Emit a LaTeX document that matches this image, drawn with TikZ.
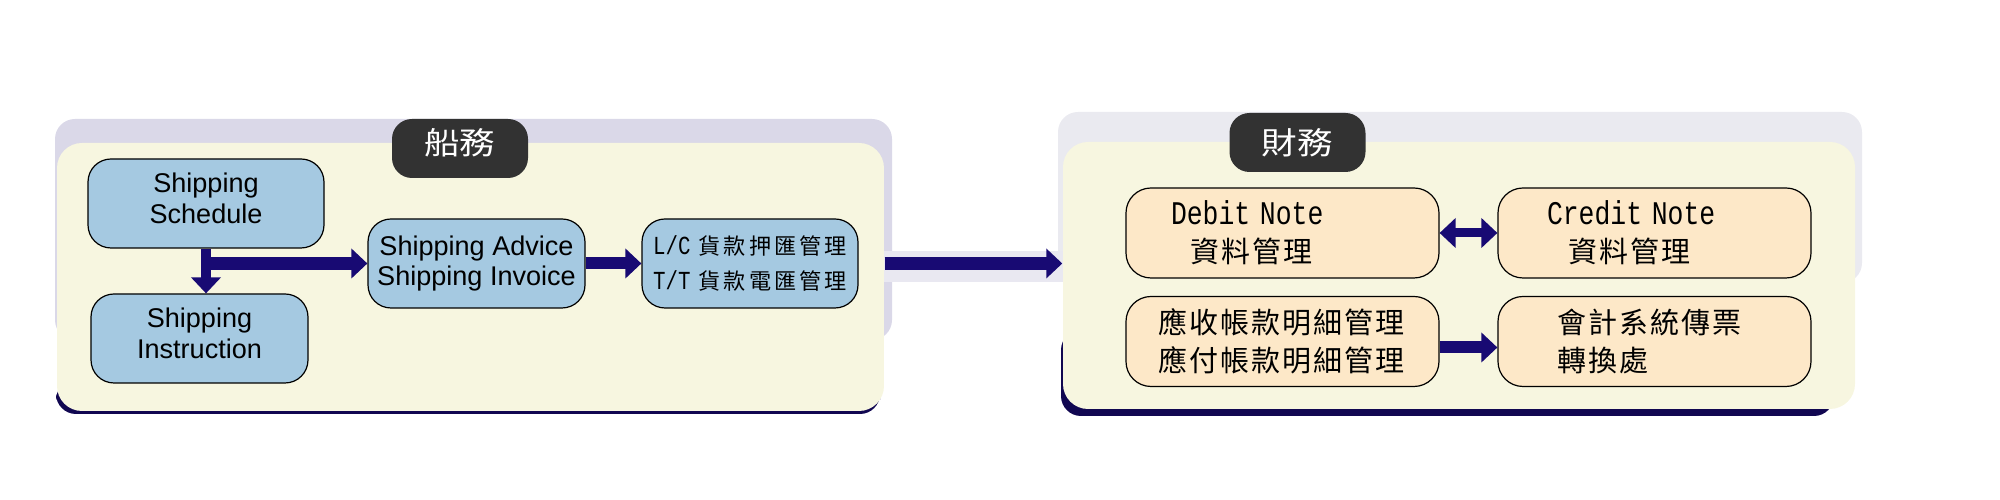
\documentclass[tikz,border=0pt]{standalone}
\usepackage{fontspec}
\setmainfont{Liberation Sans}
\newfontfamily\cjkfont[LetterSpace=7]{Noto Sans CJK TC}
\newfontfamily\cjkspaced[LetterSpace=14]{Noto Sans CJK TC}
\newfontfamily\tagfont[FakeStretch=1.15]{Noto Sans CJK TC}
\newfontfamily\notefont[FakeStretch=0.8]{Liberation Mono}
\usetikzlibrary{arrows.meta, positioning}

\definecolor{panelyellow}{RGB}{247,246,224}
\definecolor{shipblue}{RGB}{165,201,225}
\definecolor{finpeach}{RGB}{253,232,200}
\definecolor{arrownavy}{RGB}{24,10,115}
\definecolor{tagdark}{RGB}{50,50,50}
\definecolor{bandlilac}{RGB}{218,216,232}
\definecolor{bandgrey}{RGB}{234,234,240}

\newcommand{\notetxt}[1]{{\notefont\fontsize{9.4}{10.7}\selectfont #1}}
\newcommand{\codetxt}[1]{{\notefont\fontsize{7.4}{10.2}\selectfont #1}}

\tikzset{
    >={Triangle[length=1.6mm, width=2.9mm]},
    panel/.style={fill=panelyellow, rounded corners=2.5mm, inner sep=0pt},
    shipbox/.style={draw=black, line width=0.12mm, fill=shipblue, rounded corners=2.3mm,
        minimum height=8.9mm, inner sep=0pt, align=center, font=\fontsize{7.7}{8.8}\selectfont},
    finbox/.style={draw=black, line width=0.12mm, fill=finpeach, rounded corners=2.5mm,
        minimum width=31.3mm, minimum height=9mm, inner sep=0pt, align=left,
        font=\fontsize{8.25}{10.7}\selectfont\cjkfont},
    tagbox/.style={fill=tagdark, rounded corners=2mm, minimum width=13.6mm, minimum height=5.9mm,
        inner sep=0pt, text=white, font=\fontsize{8.8}{10}\selectfont\tagfont},
    bigarrow/.style={draw=arrownavy, ->},
}

\begin{document}
\begin{tikzpicture}[x=0.1mm, y=-0.1mm]
    \useasboundingbox (0,0) rectangle (2000,500);

    % backgrounds behind the two panels
    \fill[bandlilac, rounded corners=2mm] (55,119) rectangle (892,340);
    \fill[bandgrey, rounded corners=2mm] (1058,112) rectangle (1862,283);
    \fill[arrownavy!70!black, rounded corners=2mm] (56,380) rectangle (880,414);
    \fill[arrownavy!70!black, rounded corners=2mm] (1061,330) rectangle (1834,416);
    \fill[bandlilac!60!white] (884,251) rectangle (1066,282);

    \node[panel, minimum width=82.7mm, minimum height=26.8mm] (shippanel) at (470.5,277) {};
    \node[panel, minimum width=79.2mm, minimum height=26.7mm] (finpanel) at (1459,275.5) {};

    \node[tagbox, text height=0.88em, text depth=0.55em] (shiptag) at (460,148.5) {船務};
    \node[tagbox] (fintag) at (1297.5,142.5) {財務};

    % shipping side
    \node[shipbox, minimum width=23.6mm, text depth=0.3em] (sched) at (206,203.5) {Shipping\\Schedule};
    \node[shipbox, minimum width=21.7mm, text depth=0.3em] (instr) at (199.5,338.5) {Shipping\\Instruction};
    \node[shipbox, minimum width=21.7mm] (advice) at (476.5,263.5) {Shipping Advice\\Shipping Invoice};
    \node[shipbox, minimum width=21.6mm, font=\fontsize{6.3}{10.2}\selectfont\cjkspaced] (lc) at (750,263.5)
        {\codetxt{L/C} 貨款押匯管理\\\codetxt{T/T} 貨款電匯管理};

    % finance side
    \node[finbox, text width=22.3mm] (debit) at (1282.5,233) {\notetxt{Debit Note}\\\hspace*{1.9mm}資料管理};
    \node[finbox, text width=21.5mm] (credit) at (1654.5,233) {\notetxt{Credit Note}\\\hspace*{2.1mm}資料管理};
    \node[finbox, text width=24.9mm] (recv) at (1282.5,341.5) {應收帳款明細管理\\應付帳款明細管理};
    \node[finbox, text width=19.5mm] (acct) at (1654.5,341.5) {會計系統傳票\\轉換處};

    \draw[bigarrow, line width=1mm] (sched.south) -- (sched.south |- instr.north);
    \draw[bigarrow, line width=1.3mm] (sched.south |- advice.west) -- (advice.west);
    \draw[bigarrow, line width=1.2mm] (advice) -- (lc);
    \draw[bigarrow, line width=1.3mm] (shippanel.east |- lc) -- (finpanel.west |- lc);
    \draw[bigarrow, <->, line width=0.9mm] (debit) -- (credit);
    \draw[bigarrow, line width=1.2mm] ([yshift=-0.6mm]recv.east) -- ([yshift=-0.6mm]acct.west);
\end{tikzpicture}
\end{document}
